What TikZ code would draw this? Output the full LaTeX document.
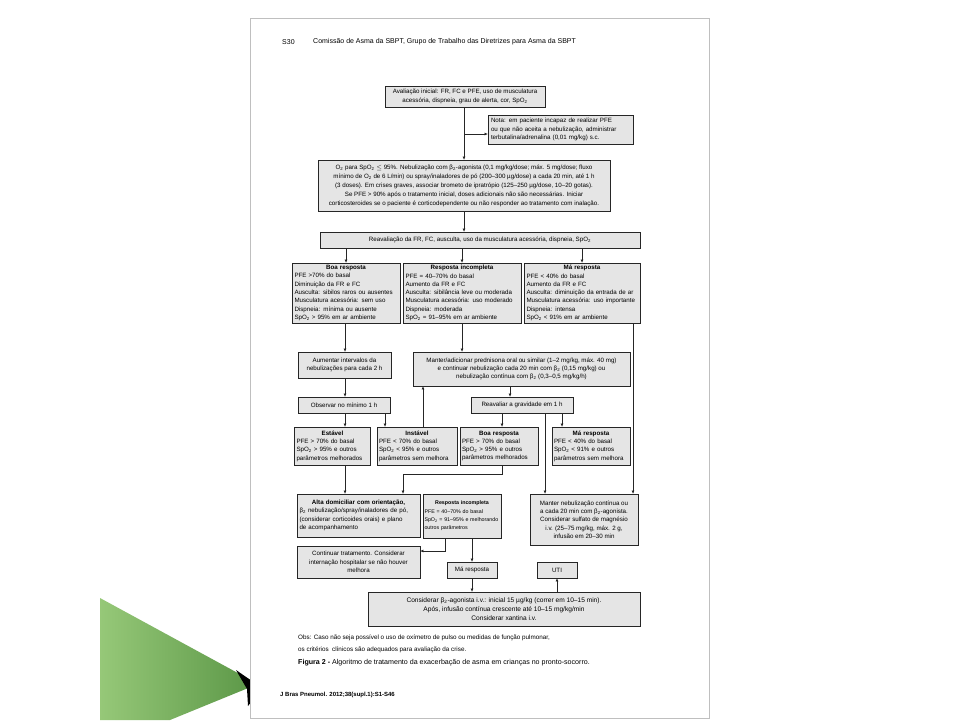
\documentclass[tikz,border=0pt]{standalone}
\usepackage{fontspec}
\setmainfont{Liberation Sans}
\usetikzlibrary{arrows.meta}
\newcommand{\bt}{\fontsize{6.2}{8.3}\selectfont}
\newcommand{\btt}[1]{\makebox[\linewidth][c]{\bfseries #1}}
\newcommand{\sub}{\textsubscript{2}}
\definecolor{wispA}{RGB}{150,200,120}
\definecolor{wispB}{RGB}{90,150,70}
\begin{document}
\begin{tikzpicture}[x=1pt,y=-1pt,
  box/.style={draw=black!85, line width=0.8pt, fill=black!10, inner sep=0pt, align=center, font=\bt},
  lbox/.style={box, align=left},
  arr/.style={-{Triangle[length=3pt,width=2.6pt]}, line width=0.7pt, draw=black!85},
  plain/.style={inner sep=0pt, anchor=west}
]
\useasboundingbox (0,0) rectangle (960,720);
\fill[white] (0,0) rectangle (960,720);
% decoration
\shade[left color=wispA, right color=wispB] (100,598) -- (258,684) -- (170,720) -- (100,720) -- cycle;
\fill[black] (236,670) -- (262,688) -- (248,706) -- (247,689) -- cycle;
% page
\draw[black!25, line width=0.8pt, fill=white] (250,18) rectangle (709,718);

\node[plain, font=\fontsize{7}{8}\selectfont] (hd1) at (282,42) {S30};
\node[plain, font=\fontsize{7}{8}\selectfont] (hd2) at (313,42) {Comissão de Asma da SBPT, Grupo de Trabalho das Diretrizes para Asma da SBPT};

\node[box, minimum width=160, minimum height=21] (aval) at (465,96.5) {Avaliação inicial: FR, FC e PFE, uso de musculatura\\acessória, dispneia, grau de alerta, cor, SpO\sub};
\node[lbox, minimum width=145, minimum height=29, text width=139] (nota) at (560.5,129.5) {Nota: em paciente incapaz de realizar PFE\\ou que não aceita a nebulização, administrar\\terbutalina/adrenalina (0,01 mg/kg) s.c.};
\node[box, minimum width=292, minimum height=51, font=\fontsize{6.2}{9}\selectfont] (o2) at (464,185.5) {O\sub{} para SpO\sub{} $\leq$ 95\%. Nebulização com β\sub-agonista (0,1 mg/kg/dose; máx. 5 mg/dose; fluxo\\mínimo de O\sub{} de 6 L/min) ou spray/inaladores de pó (200–300 µg/dose) a cada 20 min, até 1 h\\(3 doses). Em crises graves, associar brometo de ipratrópio (125–250 µg/dose, 10–20 gotas).\\Se PFE > 90\% após o tratamento inicial, doses adicionais não são necessárias. Iniciar\\corticosteroides se o paciente é corticodependente ou não responder ao tratamento com inalação.};
\node[box, minimum width=320, minimum height=16] (reav) at (480,240) {Reavaliação da FR, FC, ausculta, uso da musculatura acessória, dispneia, SpO\sub};

\node[lbox, minimum width=108, minimum height=60, text width=103] (boa) at (346,293) {\btt{Boa resposta}\\PFE >70\% do basal\\Diminuição da FR e FC\\Ausculta: sibilos raros ou ausentes\\Musculatura acessória: sem uso\\Dispneia: mínima ou ausente\\SpO\sub{} > 95\% em ar ambiente};
\node[lbox, minimum width=118, minimum height=60, text width=113] (inc) at (462,293) {\btt{Resposta incompleta}\\PFE = 40–70\% do basal\\Aumento da FR e FC\\Ausculta: sibilância leve ou moderada\\Musculatura acessória: uso moderado\\Dispneia: moderada\\SpO\sub{} = 91–95\% em ar ambiente};
\node[lbox, minimum width=116, minimum height=60, text width=111] (ma) at (582,293) {\btt{Má resposta}\\PFE < 40\% do basal\\Aumento da FR e FC\\Ausculta: diminuição da entrada de ar\\Musculatura acessória: uso importante\\Dispneia: intensa\\SpO\sub{} < 91\% em ar ambiente};

\node[box, minimum width=93, minimum height=26] (aum) at (344.5,365) {Aumentar intervalos da\\nebulizações para cada 2 h};
\node[box, minimum width=217, minimum height=34] (mant) at (521.5,369) {Manter/adicionar prednisona oral ou similar (1–2 mg/kg, máx. 40 mg)\\e continuar nebulização cada 20 min com β\sub{} (0,15 mg/kg) ou\\nebulização contínua com β\sub{} (0,3–0,5 mg/kg/h)};
\node[box, minimum width=92, minimum height=16] (obs) at (344,405) {Observar no mínimo 1 h};
\node[box, minimum width=102, minimum height=16] (reav2) at (522,405) {Reavaliar a gravidade em 1 h};

\node[lbox, minimum width=76, minimum height=38, text width=72] (est) at (332.5,446) {\btt{Estável}\\PFE > 70\% do basal\\SpO\sub{} > 95\% e outros\\parâmetros melhorados};
\node[lbox, minimum width=80, minimum height=38, text width=76] (inst) at (417,446) {\btt{Instável}\\PFE < 70\% do basal\\SpO\sub{} < 95\% e outros\\parâmetros sem melhora};
\node[lbox, minimum width=78, minimum height=38, text width=74] (boa2) at (499,446) {\btt{Boa resposta}\\PFE > 70\% do basal\\SpO\sub{} > 95\% e outros\\parâmetros melhorados};
\node[lbox, minimum width=78, minimum height=38, text width=74] (ma2) at (591,446) {\btt{Má resposta}\\PFE < 40\% do basal\\SpO\sub{} < 91\% e outros\\parâmetros sem melhora};

\node[lbox, minimum width=123, minimum height=43, text width=118] (alta) at (358.5,515.5) {\btt{Alta domiciliar com orientação,}\\β\sub{} nebulização/spray/inaladores de pó,\\(considerar corticoides orais) e plano\\de acompanhamento};
\node[lbox, minimum width=78, minimum height=44, text width=75, font=\fontsize{5.3}{8.3}\selectfont] (rinc) at (462,516) {\btt{Resposta incompleta}\\\mbox{PFE = 40–70\% do basal}\\\mbox{SpO\sub{} = 91–95\% e melhorando}\\\mbox{outros parâmetros}};
\node[box, minimum width=108, minimum height=51] (mneb) at (584,519.5) {Manter nebulização contínua ou\\a cada 20 min com β\sub-agonista.\\Considerar sulfato de magnésio\\i.v. (25–75 mg/kg, máx. 2 g,\\infusão em 20–30 min};

\node[box, minimum width=123, minimum height=32] (cont) at (358.5,562) {Continuar tratamento. Considerar\\internação hospitalar se não houver\\melhora};
\node[box, minimum width=50, minimum height=16] (mares) at (472,570) {Má resposta};
\node[box, minimum width=40, minimum height=16] (uti) at (557,570) {UTI};
\node[box, minimum width=272, minimum height=34, font=\fontsize{6.6}{9}\selectfont] (cons) at (504,609) {Considerar β\sub-agonista i.v.: inicial 15 µg/kg (correr em 10–15 min).\\Após, infusão contínua crescente até 10–15 mg/kg/min\\Considerar xantina i.v.};

\node[plain, font=\fontsize{6.3}{12}\selectfont, align=left, anchor=north west] (obsn) at (298,635) {Obs: Caso não seja possível o uso de oxímetro de pulso ou medidas de função pulmonar,\\os critérios\ \ clínicos são adequados para avaliação da crise.};
\node[plain, font=\fontsize{7.1}{8}\selectfont] (cap) at (298,663) {\textbf{Figura 2 -} Algoritmo de tratamento da exacerbação de asma em crianças no pronto-socorro.};
\node[plain, font=\fontsize{6}{7}\selectfont\bfseries] (foot) at (280,695) {J Bras Pneumol. 2012;38(supl.1):S1-S46};

% connectors
\draw[arr] (aval.south -| 464,0) -- (o2.north -| 464,0);
\draw[arr] (464,134) -- (nota.west |- 0,134);
\draw[arr] (o2.south -| 464,0) -- (reav.north -| 464,0);
\draw[arr] (reav.south -| boa) -- (boa.north);
\draw[arr] (reav.south -| inc) -- (inc.north);
\draw[arr] (reav.south -| ma) -- (ma.north);
\draw[arr] (boa.south -| 345,0) -- (aum.north -| 345,0);
\draw[arr] (aum.south -| 345,0) -- (obs.north -| 345,0);
\draw[arr] (inc.south) -- (mant.north -| inc.south);
\draw[arr] (ma.south -| 633,0) -- (mneb.north -| 633,0);
\draw[arr] (mant.south -| 510,0) -- (reav2.north -| 510,0);
\draw[arr] (obs.south -| 345,0) -- (est.north -| 345,0);
\draw[arr] (obs.south -| 385,0) -- (inst.north -| 385,0);
\draw[arr] (inst.north -| 423,0) -- (mant.south -| 423,0);
\draw[arr] (reav2.south -| 502,0) -- (boa2.north -| 502,0);
\draw[arr] (reav2.south -| 545,0) -- (mneb.north -| 545,0);
\draw[arr] (reav2.south -| 562,0) -- (ma2.north -| 562,0);
\draw[arr] (est.south -| 345,0) -- (alta.north -| 345,0);
\draw[arr] (boa2.south -| 502,0) -- (502,474) -- (403,474) -- (alta.north -| 403,0);
\draw[arr] (rinc.south -| 445,0) -- (445,551) -- (cont.east |- 0,551);
\draw[arr] (rinc.south -| 472,0) -- (mares.north);
\draw[arr] (mares.south) -- (cons.north -| mares.south);
\draw[arr] (cons.north -| uti.south) -- (uti.south);
\end{tikzpicture}
\end{document}
